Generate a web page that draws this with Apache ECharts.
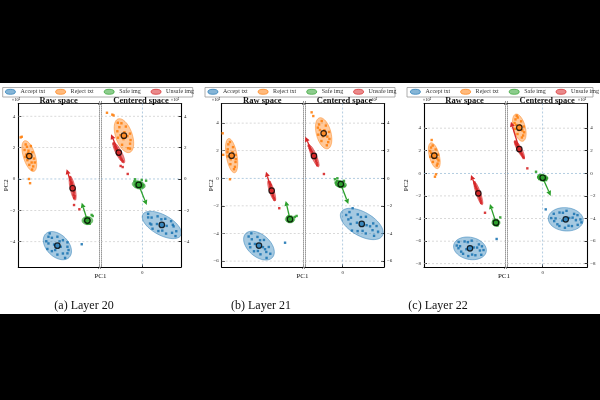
<!DOCTYPE html>
<html>
<head>
<meta charset="utf-8">
<title>Layer PCA</title>
<script src="https://cdn.jsdelivr.net/npm/echarts@6/dist/echarts.min.js"></script>
<style>
html,body{margin:0;padding:0;background:#000;}
#main{width:600px;height:400px;}
</style>
</head>
<body>
<div id="main"></div>
<script>
// ---- data (PC units, x10^2) ----
var groups = ['Accept txt', 'Reject txt', 'Safe img', 'Unsafe img'];
var captions = ['(a) Layer 20', '(b) Layer 21', '(c) Layer 22'];
var yTicks = [[-4, -2, 0, 2, 4], [-6, -4, -2, 0, 2, 4], [-8, -6, -4, -2, 0, 2, 4]];
var yRange = [[-5.61, 4.81], [-6.43, 5.42], [-8.29, 6.18]];
var rawXRange = [[0, 5.14], [0, 5.89], [0, 7.17]];
var cenXRange = [[-2.63, 2.46], [-2.73, 2.99], [-3.16, 3.95]];
var cenXTicks = [0];

// ellipses: [cx, cy, semi-major, semi-minor, angle deg] in order accept, reject, safe, unsafe
var l20RawEllipse = [[2.49,-4.25,1.06,0.70,-45],[0.70,1.46,1.02,0.38,107],[4.40,-2.65,0.34,0.26,0],[3.46,-0.59,0.78,0.16,102]];
var l20CenEllipse = [[1.24,-2.93,1.38,0.64,-29],[-1.17,2.76,1.13,0.53,109],[-0.23,-0.38,0.42,0.25,-15],[-1.50,1.68,0.74,0.18,118]];
var l21RawEllipse = [[2.70,-4.88,1.30,0.80,-41],[0.72,1.64,1.26,0.39,100],[4.95,-2.97,0.34,0.26,0],[3.62,-0.90,0.78,0.17,108]];
var l21CenEllipse = [[1.38,-3.31,1.72,0.86,-30],[-1.38,3.26,1.16,0.53,105],[-0.14,-0.43,0.42,0.25,-15],[-2.08,1.62,0.85,0.18,113]];
var l22RawEllipse = [[4.07,-6.64,1.47,0.98,-12],[0.91,1.56,1.18,0.44,105],[6.37,-4.37,0.36,0.29,0],[4.81,-1.77,1.07,0.2,109]];
var l22CenEllipse = [[2.04,-4.07,1.55,1.03,-5],[-2.07,4.04,1.24,0.53,105],[0.00,-0.39,0.47,0.28,-10],[-2.07,2.15,0.86,0.2,119]];

// shift arrows: [x0, y0, x1, y1] for safe, unsafe
var l20RawArrows = [[4.40,-2.65,4.04,-1.51],[3.46,-0.59,3.08,0.62]];
var l20CenArrows = [[-0.23,-0.38,0.28,-1.66],[-1.50,1.68,-1.99,2.85]];
var l21RawArrows = [[4.95,-2.97,4.64,-1.64],[3.62,-0.90,3.21,0.48]];
var l21CenArrows = [[-0.14,-0.43,0.41,-1.86],[-2.08,1.62,-2.71,3.01]];
var l22RawArrows = [[6.37,-4.37,5.84,-2.72],[4.81,-1.77,4.16,-0.15]];
var l22CenArrows = [[0.00,-0.39,0.71,-2.00],[-2.07,2.15,-2.81,4.57]];

// samples
var l20RawAccept = [[3.13,-4.74],[1.92,-3.68],[3.13,-4.32],[2.49,-4.82],[2.49,-3.68],[1.92,-4.11],[2.84,-3.90],[2.14,-4.60],[2.70,-4.32],[2.28,-4.18],[2.98,-5.03],[2.00,-3.47],[2.84,-4.75],[2.14,-3.75],[3.13,-4.04],[1.85,-4.46],[2.35,-4.53],[2.63,-3.97],[3.20,-4.53],[1.78,-3.97],[4.04,-4.16]];
var l20RawReject = [[0.47,2.20],[0.55,2.05],[0.80,2.10],[0.40,1.85],[0.65,1.80],[0.90,1.70],[0.50,1.55],[0.78,1.40],[1.00,1.30],[0.58,1.20],[0.85,1.05],[0.70,0.90],[0.95,0.80],[0.62,1.65],[0.45,1.40],[1.05,1.05],[0.88,0.60],[0.75,1.55],[0.22,2.69],[0.15,2.65],[0.68,0.00],[0.75,-0.27]];
var l20RawSafe = [[4.25,-2.55],[4.35,-2.45],[4.50,-2.50],[4.55,-2.65],[4.45,-2.80],[4.30,-2.75],[4.22,-2.68],[4.40,-2.85],[4.55,-2.85],[4.38,-2.55],[4.48,-2.60],[4.30,-2.62],[4.67,-2.29],[4.74,-2.36]];
var l20RawUnsafe = [[3.30,0.10],[3.33,-0.05],[3.38,-0.20],[3.36,-0.35],[3.44,-0.40],[3.42,-0.55],[3.50,-0.65],[3.47,-0.75],[3.53,-0.85],[3.52,-1.00],[3.58,-1.10],[3.56,-1.22],[3.40,-0.28],[3.48,-0.50],[3.89,-1.93],[3.55,-1.66]];

var l20CenAccept = [[2.16,-3.33],[0.37,-2.45],[1.94,-2.92],[1.51,-3.48],[0.97,-2.38],[0.57,-2.90],[1.46,-2.54],[1.02,-3.32],[1.55,-2.99],[0.93,-2.87],[2.11,-3.64],[0.37,-2.22],[1.89,-3.43],[0.59,-2.46],[1.27,-3.29],[1.21,-2.57],[1.99,-3.02],[0.49,-2.84],[1.83,-2.69],[0.65,-3.17]];
var l20CenReject = [[-1.33,3.55],[-0.91,1.96],[-1.05,3.34],[-1.59,3.04],[-0.75,2.48],[-1.29,2.18],[-0.79,2.89],[-1.55,2.63],[-1.14,2.98],[-1.20,2.54],[-1.56,3.58],[-0.78,1.93],[-1.46,3.30],[-0.78,2.25],[-1.39,2.79],[-0.95,2.73],[-2.25,4.22],[-1.91,4.10],[-1.83,4.05]];
var l20CenSafe = [[-0.50,-0.15],[-0.40,-0.25],[-0.30,-0.20],[-0.15,-0.22],[-0.05,-0.30],[0.05,-0.40],[-0.10,-0.50],[-0.25,-0.52],[-0.40,-0.48],[-0.48,-0.35],[-0.20,-0.35],[-0.33,-0.40],[0.00,-0.50],[-0.46,-0.02],[-0.04,-0.06],[0.24,-0.11]];
var l20CenUnsafe = [[-1.82,2.25],[-1.75,2.10],[-1.70,2.00],[-1.66,1.88],[-1.58,1.80],[-1.60,1.70],[-1.50,1.62],[-1.45,1.50],[-1.40,1.42],[-1.35,1.30],[-1.30,1.22],[-1.24,1.12],[-1.55,1.55],[-1.68,1.95],[-1.38,0.83],[-1.25,0.76],[-0.93,0.32]];

var l21RawAccept = [[3.52,-5.47],[1.95,-4.22],[3.41,-4.98],[2.81,-5.51],[2.59,-4.25],[2.02,-4.75],[3.06,-4.47],[2.34,-5.29],[2.99,-4.99],[2.41,-4.76],[3.25,-5.77],[2.15,-3.99],[3.23,-5.34],[2.18,-4.42],[2.62,-5.27],[2.78,-4.49],[3.14,-5.14],[2.07,-5.00],[4.59,-4.67]];
var l21RawReject = [[0.60,2.63],[0.89,0.66],[0.82,2.26],[0.44,2.10],[1.00,1.18],[0.63,1.02],[1.01,1.69],[0.43,1.59],[0.78,1.90],[0.66,1.38],[0.48,2.46],[0.96,0.83],[0.42,1.89],[1.02,1.39],[0.07,3.26],[0.60,-0.07],[0.11,1.70]];
var l21RawSafe = [[4.75,-2.85],[4.85,-2.75],[5.00,-2.80],[5.10,-2.90],[5.05,-3.10],[4.90,-3.15],[4.78,-3.05],[4.95,-2.90],[5.12,-3.05],[4.85,-2.98],[5.00,-3.00],[5.43,-2.73],[5.30,-2.80]];
var l21RawUnsafe = [[3.46,-0.28],[3.50,-0.40],[3.55,-0.50],[3.52,-0.62],[3.60,-0.72],[3.58,-0.85],[3.65,-0.95],[3.63,-1.08],[3.70,-1.18],[3.72,-1.30],[3.78,-1.42],[3.82,-1.55],[3.68,-1.05],[3.56,-0.78],[4.17,-2.17]];

var l21CenAccept = [[2.56,-3.87],[0.25,-2.66],[2.21,-3.27],[1.67,-4.00],[1.09,-2.62],[0.57,-3.31],[1.68,-2.79],[1.08,-3.83],[1.73,-3.40],[1.03,-3.22],[2.27,-4.17],[0.49,-2.45],[2.16,-3.76],[0.60,-2.86],[1.44,-3.81],[1.32,-2.81],[1.98,-3.48],[0.67,-3.79],[2.45,-3.46],[0.41,-2.98],[0.72,-2.17]];
var l21CenReject = [[-1.52,4.15],[-1.15,2.39],[-1.22,3.82],[-1.80,3.67],[-0.96,2.85],[-1.54,2.70],[-0.99,3.36],[-1.77,3.16],[-1.33,3.48],[-1.43,3.04],[-1.71,3.90],[-1.05,2.62],[-1.65,3.50],[-1.11,3.02],[-2.25,4.78],[-2.13,4.51]];
var l21CenSafe = [[-0.50,-0.30],[-0.40,-0.20],[-0.25,-0.25],[-0.10,-0.30],[0.05,-0.40],[0.12,-0.55],[-0.05,-0.60],[-0.20,-0.62],[-0.35,-0.55],[-0.45,-0.45],[-0.15,-0.45],[-0.30,-0.40],[-0.56,-0.07],[-0.39,0.00],[0.09,-0.19]];
var l21CenUnsafe = [[-2.46,2.36],[-2.40,2.22],[-2.35,2.10],[-2.28,2.00],[-2.22,1.88],[-2.16,1.75],[-2.10,1.65],[-2.02,1.52],[-1.96,1.40],[-1.92,1.25],[-1.88,1.10],[-1.85,0.95],[-2.18,1.60],[-2.00,1.70],[-1.36,0.31]];

var l22RawAccept = [[5.27,-6.79],[2.90,-6.39],[4.86,-6.29],[4.55,-7.25],[3.59,-6.03],[3.29,-6.93],[4.22,-5.96],[3.92,-7.32],[4.40,-6.56],[3.75,-6.72],[5.07,-7.21],[3.07,-6.07],[4.95,-6.83],[3.19,-6.45],[4.26,-7.19],[3.88,-6.09],[4.70,-6.57],[3.46,-7.12],[5.13,-6.46],[3.05,-6.63],[6.43,-5.81]];
var l22RawReject = [[0.77,2.46],[1.14,0.69],[1.03,2.11],[0.55,1.98],[1.28,1.14],[0.79,1.01],[1.25,1.65],[0.57,1.47],[0.96,1.78],[0.86,1.34],[0.62,2.28],[1.20,0.86],[0.64,1.80],[1.18,1.32],[0.97,-0.30],[1.06,-0.09],[0.68,2.95]];
var l22RawSafe = [[6.15,-4.20],[6.28,-4.10],[6.45,-4.15],[6.58,-4.30],[6.52,-4.50],[6.35,-4.60],[6.20,-4.50],[6.40,-4.35],[6.50,-4.62],[6.25,-4.35],[6.75,-3.90]];
var l22RawUnsafe = [[4.45,-0.80],[4.50,-0.95],[4.55,-1.10],[4.60,-1.25],[4.66,-1.38],[4.72,-1.52],[4.78,-1.65],[4.83,-1.80],[4.88,-1.95],[4.92,-2.10],[4.98,-2.28],[5.02,-2.45],[5.06,-2.62],[4.70,-1.70],[4.88,-1.75],[5.40,-3.49]];

var l22CenAccept = [[3.34,-4.08],[0.75,-3.96],[2.78,-3.59],[2.59,-4.67],[1.49,-3.47],[1.30,-4.51],[2.11,-3.32],[1.97,-4.82],[2.35,-3.95],[1.73,-4.19],[3.10,-4.56],[0.98,-3.58],[2.94,-4.15],[1.14,-3.99],[2.29,-4.64],[1.79,-3.49],[2.65,-3.92],[1.48,-4.66],[3.08,-3.70],[1.02,-4.23],[3.43,-4.34],[0.27,-3.19]];
var l22CenReject = [[-2.21,4.94],[-1.84,3.17],[-1.91,4.60],[-2.49,4.45],[-1.65,3.63],[-2.23,3.48],[-1.68,4.14],[-2.46,3.94],[-2.03,4.26],[-2.11,3.82],[-2.41,4.77],[-1.73,3.35],[-2.34,4.28],[-1.80,3.80],[-2.30,5.10]];
var l22CenSafe = [[-0.35,-0.20],[-0.20,-0.15],[0.00,-0.20],[0.20,-0.25],[0.35,-0.40],[0.30,-0.60],[0.10,-0.65],[-0.10,-0.60],[-0.30,-0.50],[-0.40,-0.35],[0.05,-0.40],[-0.15,-0.40],[-0.59,0.14]];
var l22CenUnsafe = [[-2.42,2.76],[-2.36,2.62],[-2.30,2.50],[-2.24,2.40],[-2.18,2.28],[-2.12,2.18],[-2.05,2.08],[-1.98,1.95],[-1.92,1.82],[-1.86,1.70],[-1.80,1.58],[-1.74,1.45],[-1.68,1.36],[-2.15,2.05],[-1.95,2.10],[-1.36,0.44]];

// ---- style / layout ----
var colors = ['#1f77b4', '#ff7f0e', '#2ca02c', '#d62728'];
var fills = ['rgba(31,119,180,0.4)', 'rgba(255,127,14,0.42)', 'rgba(44,160,44,0.6)', 'rgba(214,39,40,0.55)'];
var edges = ['rgba(31,119,180,0.6)', 'rgba(255,127,14,0.6)', 'rgba(44,160,44,0.7)', 'rgba(214,39,40,0.7)'];
var legendFills = ['rgba(31,119,180,0.6)', 'rgba(255,127,14,0.6)', 'rgba(44,160,44,0.6)', 'rgba(214,39,40,0.6)'];
var serif = '"Liberation Serif","DejaVu Serif",serif';
var TOP = 103.5, BOT = 267;
var layout = [
    {left: 18.3, brk: 100, right: 181, legendX: 5, boxL: 2.7, boxR: 192.7, pc2X: 6.3, pc1X: 100.5, capX: 84, expL: 16, expR: 175},
    {left: 221.7, brk: 304, right: 384, legendX: 207.5, boxL: 205, boxR: 395, pc2X: 210.7, pc1X: 302.5, capX: 261, expL: 216, expR: 373},
    {left: 424, brk: 506, right: 587.3, legendX: 410, boxL: 407, boxR: 593, pc2X: 406.5, pc1X: 504, capX: 438, expL: 427, expR: 582}
];

var subplots = [
    {p: 0, cen: false, xr: rawXRange[0], pts: [l20RawAccept, l20RawReject, l20RawSafe, l20RawUnsafe], ell: l20RawEllipse, arr: l20RawArrows},
    {p: 0, cen: true, xr: cenXRange[0], pts: [l20CenAccept, l20CenReject, l20CenSafe, l20CenUnsafe], ell: l20CenEllipse, arr: l20CenArrows},
    {p: 1, cen: false, xr: rawXRange[1], pts: [l21RawAccept, l21RawReject, l21RawSafe, l21RawUnsafe], ell: l21RawEllipse, arr: l21RawArrows},
    {p: 1, cen: true, xr: cenXRange[1], pts: [l21CenAccept, l21CenReject, l21CenSafe, l21CenUnsafe], ell: l21CenEllipse, arr: l21CenArrows},
    {p: 2, cen: false, xr: rawXRange[2], pts: [l22RawAccept, l22RawReject, l22RawSafe, l22RawUnsafe], ell: l22RawEllipse, arr: l22RawArrows},
    {p: 2, cen: true, xr: cenXRange[2], pts: [l22CenAccept, l22CenReject, l22CenSafe, l22CenUnsafe], ell: l22CenEllipse, arr: l22CenArrows}
];

function fmtTick(v) { return v < 0 ? '\u2212' + (-v) : String(v); }

function gridLineItem(params, api) {
    var cs = params.coordSys;
    var o = api.value(0), v = api.value(1);
    var st = {stroke: v === 0 ? '#93b7d4' : '#c9c9c9', lineWidth: 0.7, lineDash: [2, 2], fill: null};
    if (o === 0) {
        var y = api.coord([0, v])[1];
        return {type: 'line', shape: {x1: cs.x, y1: y, x2: cs.x + cs.width, y2: y}, style: st};
    }
    var x = api.coord([v, 0])[0];
    return {type: 'line', shape: {x1: x, y1: cs.y, x2: x, y2: cs.y + cs.height}, style: st};
}

function ellipseItem(params, api) {
    var cx = api.value(0), cy = api.value(1), a = api.value(2), b = api.value(3);
    var ang = api.value(4) * Math.PI / 180, ci = api.value(5);
    var pts = [];
    for (var t = 0; t < 60; t++) {
        var th = t / 60 * 2 * Math.PI;
        var u = a * Math.cos(th), w = b * Math.sin(th);
        pts.push(api.coord([cx + u * Math.cos(ang) - w * Math.sin(ang), cy + u * Math.sin(ang) + w * Math.cos(ang)]));
    }
    return {type: 'polygon', shape: {points: pts}, style: {fill: fills[ci], stroke: edges[ci], lineWidth: 0.8}};
}

function arrowItem(params, api) {
    var p0 = api.coord([api.value(0), api.value(1)]);
    var p1 = api.coord([api.value(2), api.value(3)]);
    var c = colors[api.value(4)];
    var dx = p1[0] - p0[0], dy = p1[1] - p0[1];
    var len = Math.sqrt(dx * dx + dy * dy), ux = dx / len, uy = dy / len;
    var hl = 5, hw = 2.5;
    var bx = p1[0] - ux * hl, by = p1[1] - uy * hl;
    return {type: 'group', children: [
        {type: 'line', shape: {x1: p0[0], y1: p0[1], x2: bx, y2: by}, style: {stroke: c, lineWidth: 1.3}},
        {type: 'polygon', shape: {points: [[p1[0], p1[1]], [bx - uy * hw, by + ux * hw], [bx + uy * hw, by - ux * hw]]}, style: {fill: c}}
    ]};
}

var option = {
    backgroundColor: '#fff',
    animation: false,
    grid: [], xAxis: [], yAxis: [], series: [], legend: [],
    graphic: {elements: []}
};

subplots.forEach(function (sp, k) {
    var lay = layout[sp.p];
    var L = sp.cen ? lay.brk + 1 : lay.left;
    var R = sp.cen ? lay.right : lay.brk - 1;
    var yr = yRange[sp.p], ticks = yTicks[sp.p];
    option.grid.push({left: L, top: TOP, width: R - L, height: BOT - TOP});

    option.xAxis.push({
        type: 'value', gridIndex: k, min: sp.xr[0], max: sp.xr[1], position: 'bottom',
        axisLine: {onZero: false, lineStyle: {color: '#000', width: 1.1}},
        axisTick: sp.cen ? {show: true, inside: true, length: 3, customValues: cenXTicks, lineStyle: {color: '#000', width: 0.8}} : {show: false},
        axisLabel: sp.cen ? {show: true, customValues: cenXTicks, formatter: fmtTick, fontSize: 5, fontFamily: serif, color: '#222', margin: 3} : {show: false},
        splitLine: {show: false}
    });
    option.xAxis.push({
        type: 'value', gridIndex: k, min: sp.xr[0], max: sp.xr[1], position: 'top',
        axisLine: {onZero: false, lineStyle: {color: '#000', width: 0.8}},
        axisTick: {show: false}, axisLabel: {show: false}, splitLine: {show: false}
    });
    option.yAxis.push({
        type: 'value', gridIndex: k, min: yr[0], max: yr[1], position: sp.cen ? 'right' : 'left',
        axisLine: {onZero: false, lineStyle: {color: '#000', width: 1.1}},
        axisTick: {show: true, inside: true, length: 3, customValues: ticks, lineStyle: {color: '#000', width: 0.8}},
        axisLabel: {show: true, customValues: ticks, formatter: fmtTick, fontSize: 5, fontFamily: serif, color: '#222', margin: 3},
        splitLine: {show: false}
    });
    option.yAxis.push({
        type: 'value', gridIndex: k, min: yr[0], max: yr[1], position: sp.cen ? 'left' : 'right',
        axisLine: {onZero: false, lineStyle: {color: '#999', width: 1, type: 'dotted'}},
        axisTick: {show: false}, axisLabel: {show: false}, splitLine: {show: false}
    });

    var xi = 2 * k, yi = 2 * k;
    var lines = ticks.map(function (t) { return [0, t]; });
    if (sp.cen) lines.push([1, 0]);
    option.series.push({type: 'custom', xAxisIndex: xi, yAxisIndex: yi, z: 1, silent: true,
        renderItem: gridLineItem, data: lines});
    option.series.push({type: 'custom', xAxisIndex: xi, yAxisIndex: yi, z: 2, silent: true, clip: true,
        renderItem: ellipseItem, data: sp.ell.map(function (e, i) { return e.concat(i); })});
    sp.pts.forEach(function (arr, g) {
        option.series.push({type: 'scatter', name: groups[g], xAxisIndex: xi, yAxisIndex: yi, z: 3,
            symbol: 'rect', symbolSize: 2.4, itemStyle: {color: colors[g], opacity: 0.9}, data: arr});
    });
    option.series.push({type: 'custom', xAxisIndex: xi, yAxisIndex: yi, z: 4, silent: true,
        renderItem: arrowItem, data: sp.arr.map(function (a, i) { return a.concat(i + 2); })});
    option.series.push({type: 'scatter', xAxisIndex: xi, yAxisIndex: yi, z: 5, symbolSize: 5.5, silent: true,
        data: sp.ell.map(function (e, i) {
            return {value: [e[0], e[1]], itemStyle: {color: colors[i], borderColor: '#000', borderWidth: 1.2}};
        })});
});

var ellipseIcon = 'path://M0,5a10,5 0 1,0 20,0a10,5 0 1,0 -20,0z';
var G = option.graphic.elements;
G.push({type: 'rect', shape: {x: 0, y: 0, width: 600, height: 83}, style: {fill: '#000'}});
G.push({type: 'rect', shape: {x: 0, y: 314, width: 600, height: 86}, style: {fill: '#000'}});

function txt(x, y, s, font, extra) {
    var el = {type: 'text', x: x, y: y, style: {text: s, font: font, fill: '#111',
        align: 'center', verticalAlign: 'middle', textAlign: 'center', textVerticalAlign: 'middle'}};
    if (extra) for (var key in extra) el[key] = extra[key];
    return el;
}

layout.forEach(function (lay, p) {
    option.legend.push({
        left: lay.legendX, top: 88.8, padding: 0, itemWidth: 10, itemHeight: 5, itemGap: 10,
        selectedMode: false,
        textStyle: {fontSize: 6, fontFamily: serif, color: '#333'},
        data: groups.map(function (g, i) {
            return {name: g, icon: ellipseIcon, itemStyle: {color: legendFills[i], borderColor: colors[i], borderWidth: 0.8}};
        })
    });
    G.push({type: 'rect', z: -1, shape: {x: lay.boxL, y: 87.5, width: lay.boxR - lay.boxL, height: 9.5},
        style: {fill: '#fff', stroke: '#999', lineWidth: 0.8}});
    G.push(txt((lay.left + lay.brk - 1) / 2, 100.3, 'Raw space', 'bold 8.5px ' + serif));
    G.push(txt((lay.brk + 1 + lay.right) / 2, 100.3, 'Centered space', 'bold 8.5px ' + serif));
    G.push(txt(lay.expL, 99.5, '\u00d710\u00b2', '4.5px ' + serif));
    G.push(txt(lay.expR, 99.5, '\u00d710\u00b2', '4.5px ' + serif));
    G.push(txt(lay.pc2X, (TOP + BOT) / 2, 'PC2', '7px ' + serif, {rotation: Math.PI / 2}));
    G.push(txt(lay.pc1X, 276.5, 'PC1', '7px ' + serif));
    G.push(txt(lay.brk, TOP, '//', 'bold 7px ' + serif));
    G.push(txt(lay.brk, BOT, '//', 'bold 7px ' + serif));
    G.push(txt(lay.capX, 306, captions[p], '12px ' + serif));
});

var chart = echarts.init(document.getElementById('main'));
chart.setOption(option);
</script>
</body>
</html>
